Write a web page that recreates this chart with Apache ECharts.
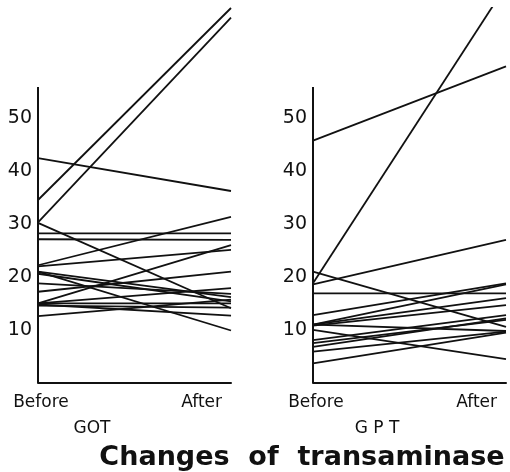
<!DOCTYPE html>
<html>
<head>
<meta charset="utf-8">
<script src="https://cdn.jsdelivr.net/npm/echarts@6/dist/echarts.min.js"></script>
<style>
  html, body { margin: 0; padding: 0; background: #fff; }
  #chart { width: 510px; height: 472px; }
</style>
</head>
<body>
<div id="chart"></div>
<script>
// 前后两次测定
var phases = ['Before', 'After'];
var tickLabels = [10, 20, 30, 40, 50];

// GOT 每个病例 治疗前 / 治疗后
var gotBefore = [34.5, 30.3, 42.4, 30.2, 28.2, 27.1, 22.2, 22.0, 21.0, 21.0, 20.6, 18.8, 17.2, 15.0, 15.0, 15.0, 14.6, 14.8, 12.6];
var gotAfter  = [70.7, 68.9, 36.2, 14.1, 28.2, 27.0, 31.3, 25.1,  9.9, 16.2, 15.4, 16.8, 21.0, 26.0, 17.9, 15.0, 14.2, 12.7, 15.7];

// GPT
var gptBefore = [45.7, 18.8, 18.6, 21.0, 16.9, 12.8, 11.0, 11.0, 10.8, 10.0,  8.1,  7.5,  6.8,  5.9,  3.7, 11.0];
var gptAfter  = [59.7, 74.9, 27.0, 10.6, 16.9, 18.8, 18.6, 16.0, 14.7,  4.5, 12.8, 11.9, 12.2,  9.7,  9.5,  9.8];

var axisTop = 55.8;   // 纵轴线画到这里
var ink = '#111';
var font = 'DejaVu Sans';

var chart = echarts.init(document.getElementById('chart'));

function makeX(idx) {
    return {
        type: 'category',
        gridIndex: idx,
        data: phases,
        boundaryGap: false,
        axisLine: { show: true, lineStyle: { color: ink, width: 2 } },
        axisTick: { show: false },
        axisLabel: {
            margin: 11,
            interval: 0,
            alignMaxLabel: 'right',
            formatter: function (v) {
                return v === 'Before' ? '{b|' + v + '}' : '{a|' + v + '}';
            },
            rich: {
                b: { fontSize: 17, color: ink, fontFamily: font, padding: [0, 0, 0, 6] },
                a: { fontSize: 17, color: ink, fontFamily: font, padding: [0, 9, 0, 0] }
            }
        }
    };
}

function makeY(idx) {
    return {
        type: 'value',
        gridIndex: idx,
        min: 0,
        max: 70.7,
        interval: 10,
        splitLine: { show: false },
        axisLine: { show: false },
        axisTick: { show: false },
        axisLabel: {
            margin: 6,
            fontSize: 19,
            color: ink,
            fontFamily: font,
            formatter: function (v) {
                return tickLabels.indexOf(v) >= 0 ? String(v) : '';
            }
        }
    };
}

var series = [];
function addPanel(before, after, idx) {
    for (var i = 0; i < before.length; i++) {
        series.push({
            type: 'line',
            xAxisIndex: idx,
            yAxisIndex: idx,
            data: [before[i], after[i]],
            symbol: 'none',
            clip: true,
            silent: true,
            animation: false,
            lineStyle: { color: ink, width: 1.8 }
        });
    }
    // 纵轴线
    series[series.length - before.length].markLine = {
        silent: true,
        symbol: 'none',
        label: { show: false },
        lineStyle: { color: ink, width: 2, type: 'solid' },
        data: [[{ coord: ['Before', 0] }, { coord: ['Before', axisTop] }]]
    };
}
addPanel(gotBefore, gotAfter, 0);
addPanel(gptBefore, gptAfter, 1);

var option = {
    backgroundColor: '#fff',
    animation: false,
    title: [
        { text: 'GOT', left: 92, top: 420, textAlign: 'center', padding: 0,
          textStyle: { fontSize: 17, fontWeight: 'normal', color: ink, fontFamily: font } },
        { text: 'G P T', left: 377, top: 420, textAlign: 'center', padding: 0,
          textStyle: { fontSize: 17, fontWeight: 'normal', color: ink, fontFamily: font } },
        { text: 'Changes  of  transaminase', left: 302, top: 444, textAlign: 'center', padding: 0,
          textStyle: { fontSize: 27, fontWeight: 'bold', color: ink, fontFamily: font } }
    ],
    grid: [
        { left: 38, right: 279, top: 8, bottom: 89 },
        { left: 313, right: 4, top: 8, bottom: 89 }
    ],
    xAxis: [makeX(0), makeX(1)],
    yAxis: [makeY(0), makeY(1)],
    series: series
};
chart.setOption(option);
</script>
</body>
</html>
